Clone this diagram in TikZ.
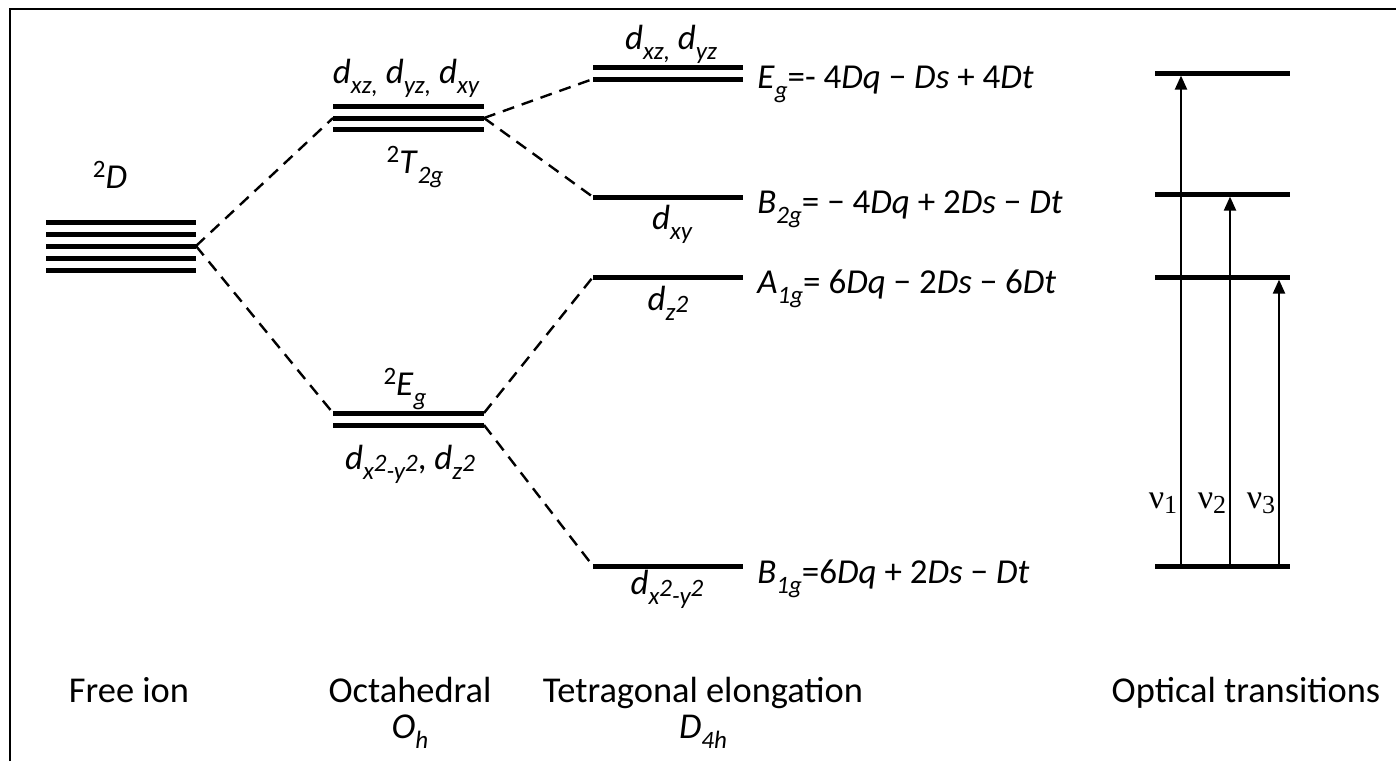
\documentclass[tikz,border=0pt]{standalone}
\usepackage{fontspec}
\setmainfont{Carlito}
\newfontfamily\nufont{Liberation Serif}
\usetikzlibrary{arrows.meta}
\newcommand\lo[1]{\raisebox{-0.6ex}{\fontsize{12.5}{12.5}\selectfont\itshape #1}}
\newcommand\hi[1]{\raisebox{0.65ex}{\fontsize{12.5}{12.5}\selectfont #1}}
\newcommand\orb[1]{\textit{d}\lo{#1}}
\tikzset{
	level/.style={line width=2.5pt},
	split/.style={line width=1.2pt,dash pattern=on 6pt off 4pt},
	trans/.style={line width=1.1pt,-{Triangle[length=7pt,width=6pt]}},
	lbl/.style={font=\fontsize{17.5}{20}\selectfont,inner sep=0pt,anchor=base},
	head/.style={lbl,font=\fontsize{18.2}{20}\selectfont}
}
\begin{document}
\begin{tikzpicture}[x=0.5pt,y=-0.5pt]
	\useasboundingbox (0,0) rectangle (1396,761);
	\draw[line width=0.8pt] (10,761) -- (10,9) -- (1396,9);
	% free ion, octahedral and tetragonal levels
	\foreach \y [count=\i] in {222,234,246,258,270}
		\draw[level] (46,\y) coordinate (fl\i) -- (196,\y) coordinate (fr\i);
	\foreach \y [count=\i] in {106,118,129}
		\draw[level] (333,\y) coordinate (tl\i) -- (484,\y) coordinate (tr\i);
	\foreach \y [count=\i] in {413,425}
		\draw[level] (333,\y) coordinate (el\i) -- (484,\y) coordinate (er\i);
	\foreach \y [count=\i] in {67,79}
		\draw[level] (593,\y) coordinate (ql\i) -- (743,\y) coordinate (qr\i);
	\draw[level] (593,197) coordinate (bl) -- (743,197) coordinate (br);
	\draw[level] (593,277) coordinate (al) -- (743,277) coordinate (ar);
	\draw[level] (593,566) coordinate (cl) -- (743,566) coordinate (cr);
	\draw[split] (fr3) -- (tl2);
	\draw[split] (fr3) -- (el1);
	\draw[split] (tr2) -- (ql2);
	\draw[split] (tr2) -- (bl);
	\draw[split] (er1) -- (al);
	\draw[split] (er2) -- (cl);
	% labels
	\node[lbl] (freeterm) at (110,188) {\hi{2}\textit{D}};
	\node[lbl] (t2gorb) at (406,83) {\orb{xz,} \orb{yz,} \orb{xy}};
	\node[lbl] (t2gterm) at (415,173) {\hi{2}\textit{T}\lo{2g}};
	\node[lbl] (egterm) at (405,395) {\hi{2}\textit{E}\lo{g}};
	\node[lbl] (egorb) at (410,469) {\orb{x\hi{2}-y\hi{2}}, \orb{z\hi{2}}};
	\node[lbl] (qorb) at (671,49) {\orb{xz,} \orb{yz}};
	\node[lbl] (borb) at (672,229) {\orb{xy}};
	\node[lbl] (aorb) at (668,310) {\orb{z\hi{2}}};
	\node[lbl] (corb) at (667,594) {\orb{x\hi{2}-y\hi{2}}};
	\node[lbl,anchor=base west] (qen) at (757,88) {\textit{E}\lo{g}=- 4\textit{Dq} − \textit{Ds} + 4\textit{Dt}};
	\node[lbl,anchor=base west] (ben) at (757,213) {\textit{B}\lo{2g}= − 4\textit{Dq} + 2\textit{Ds} − \textit{Dt}};
	\node[lbl,anchor=base west] (aen) at (757,293) {\textit{A}\lo{1g}= 6\textit{Dq} − 2\textit{Ds} − 6\textit{Dt}};
	\node[lbl,anchor=base west] (cen) at (757,583) {\textit{B}\lo{1g}=6\textit{Dq} + 2\textit{Ds} − \textit{Dt}};
	% optical transitions
	\foreach \y [count=\i] in {73,194,277,566}
		\draw[level] (1155,\y) coordinate (ol\i) -- (1290,\y) coordinate (or\i);
	\foreach \x [count=\i] in {1181,1230,1279}
		\coordinate (g\i) at (\x,566);
	\draw[trans,shorten >=1.3pt] (g1) -- (g1 |- ol1);
	\draw[trans,shorten >=1.3pt] (g2) -- (g2 |- ol2);
	\draw[trans,shorten >=1.3pt] (g3) -- (g3 |- ol3);
	\foreach \x [count=\i] in {1163,1212,1261}
		\node[lbl,font=\fontsize{17}{18}\selectfont\nufont] (nu\i) at (\x,508) {ν\raisebox{-0.35ex}{\fontsize{13}{12}\selectfont\i}};
	% headings
	\node[head] (free) at (129,702) {Free ion};
	\node[head] (oct) at (410,702) {Octahedral};
	\node[head] (oh) at (410,738) {\textit{O}\lo{h}};
	\node[head] (tet) at (703,702) {Tetragonal elongation};
	\node[head] (dh) at (703,738) {\textit{D}\lo{4h}};
	\node[head] (opt) at (1246,702) {Optical transitions};
\end{tikzpicture}
\end{document}
